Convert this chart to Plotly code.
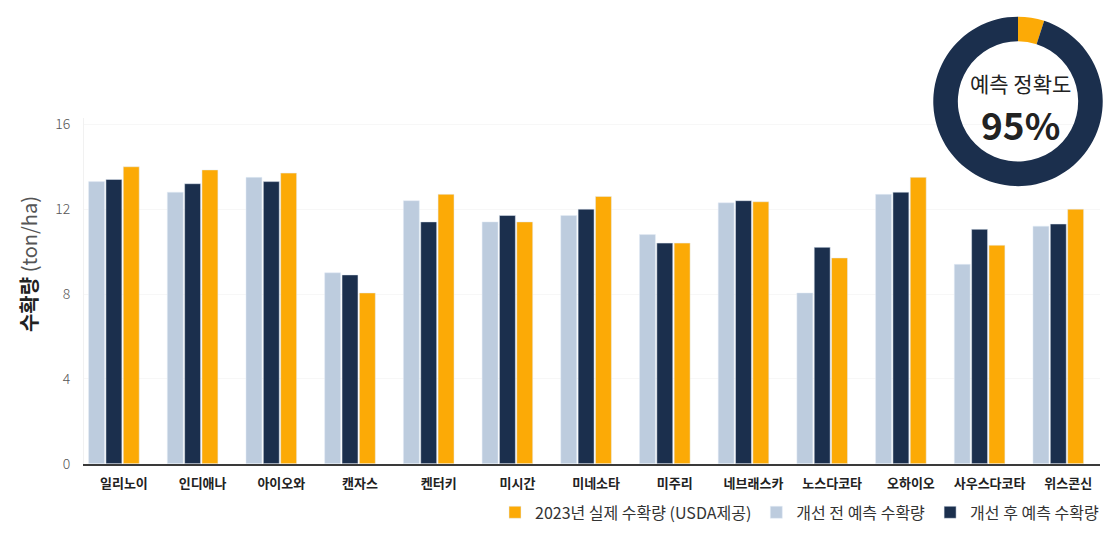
import plotly.graph_objects as go

states = ["일리노이", "인디애나", "아이오와", "캔자스", "켄터키", "미시간", "미네소타",
          "미주리", "네브래스카", "노스다코타", "오하이오", "사우스다코타", "위스콘신"]
before = [13.3, 12.8, 13.5, 9.0, 12.4, 11.4, 11.7, 10.8, 12.3, 8.05, 12.7, 9.4, 11.2]
after = [13.4, 13.2, 13.3, 8.9, 11.4, 11.7, 12.0, 10.4, 12.4, 10.2, 12.8, 11.05, 11.3]
actual = [14.0, 13.85, 13.7, 8.05, 12.7, 11.4, 12.6, 10.4, 12.35, 9.7, 13.5, 10.3, 12.0]
yticks = [0, 4, 8, 12, 16]
accuracy = [95, 5]

ORANGE = "#FCAA06"
LIGHT = "#BDCCDE"
DARK = "#1B2F4D"
FONT = "Noto Sans CJK KR"

fig = go.Figure()
fig.add_trace(go.Bar(x=states, y=before, name="개선 전 예측 수확량", marker_color=LIGHT,
                     legendrank=2))
fig.add_trace(go.Bar(x=states, y=after, name="개선 후 예측 수확량", marker_color=DARK,
                     legendrank=3))
fig.add_trace(go.Bar(x=states, y=actual, name="2023년 실제 수확량 (USDA제공)", marker_color=ORANGE,
                     legendrank=1))

fig.add_trace(go.Pie(values=accuracy[::-1], labels=["오차", "정확도"], hole=0.71,
                     sort=False, direction="clockwise", rotation=0,
                     marker=dict(colors=[ORANGE, DARK]), textinfo="none",
                     hoverinfo="skip", showlegend=False,
                     domain=dict(x=[932 / 1104, 1.0], y=[1 - 186 / 535, 1 - 12 / 535])))

fig.update_layout(
    width=1104, height=535,
    margin=dict(l=0, r=0, t=0, b=0),
    paper_bgcolor="white", plot_bgcolor="white",
    barmode="group", bargap=0.339, bargroupgap=0.08,
    font=dict(family=FONT, color="#333333"),
    showlegend=True,
    legend=dict(orientation="h", x=1.0, xanchor="right", y=1 - 521 / 535, yanchor="middle",
                font=dict(size=16, color="#333333", family=FONT), traceorder="normal",
                itemwidth=30, bgcolor="rgba(0,0,0,0)"),
    xaxis=dict(domain=[84 / 1104, 1100 / 1104], range=[-0.38, 12.53],
               showline=True, linecolor="#3a3a3a", linewidth=2, ticks="",
               layer="above traces",
               tickfont=dict(size=13, color="#222222", family=FONT, weight="bold"),
               ticklabelshift=10, ticklabelstandoff=7, showgrid=False, anchor="y"),
    yaxis=dict(domain=[1 - 471 / 535, 1 - 116 / 535], range=[0, 16.3],
               tickvals=yticks, ticktext=[str(v) for v in yticks],
               tickfont=dict(size=14, color="#555555", family=FONT, weight=300),
               ticklabelstandoff=10, showline=True, linecolor="#f1f1f1", linewidth=1,
               showgrid=True, gridcolor="#f7f7f7", zeroline=False, anchor="x"),
    annotations=[
        dict(text="<b>수확량</b> <span style='color:#555555'>(ton/ha)</span>",
             xref="paper", yref="paper", x=28 / 1104, y=1 - 266 / 535,
             textangle=-90, showarrow=False, xanchor="center", yanchor="middle",
             font=dict(size=20, color="#222222", family=FONT)),
        dict(text="예측 정확도", xref="paper", yref="paper", x=1020 / 1104, y=1 - 80 / 535,
             showarrow=False, xanchor="center", yanchor="middle",
             font=dict(size=21, color="#222222", family=FONT)),
        dict(text="<b>95%</b>", xref="paper", yref="paper", x=1020 / 1104, y=1 - 122 / 535,
             showarrow=False, xanchor="center", yanchor="middle",
             font=dict(size=37, color="#222222", family=FONT)),
    ],
)

fig.write_html("out.html")
